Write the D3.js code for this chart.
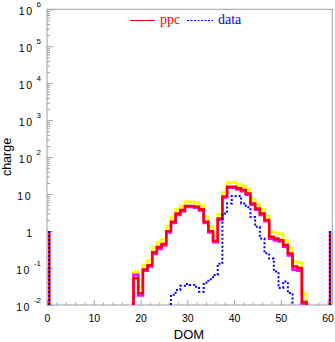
<!DOCTYPE html>
<html><head><meta charset="utf-8">
<script src="https://cdn.jsdelivr.net/npm/d3@7"></script>
<style>body{margin:0;background:#fff}svg{display:block}</style>
</head><body>
<svg id="c" width="335" height="342"></svg>
<script>
// ---- data ----
const firstDom = 19;
const ppc   = [0.053,0.021,0.092,0.12,0.27,0.37,0.45,1.0,1.8,3.0,3.7,4.8,4.8,4.6,3.9,1.8,1.0,0.55,2.2,8.7,15.9,15.9,14.4,12.9,10.5,5.6,4.1,3.0,2.0,0.7,0.63,0.57,0.42,0.25,0.11,0.10,0.012];
const upper = [0.08,0.03,0.12,0.16,0.36,0.5,0.6,1.35,2.4,3.9,4.8,6.2,6.2,5.9,5.0,2.4,1.35,0.75,2.9,11.2,20.5,20.5,18.6,16.6,13.5,7.3,5.3,3.9,2.6,0.95,0.9,0.85,0.56,0.34,0.15,0.14,0.02];
const lower = [0.066,0.018,0.085,0.11,0.24,0.33,0.41,0.92,1.65,2.75,3.4,4.5,4.5,4.3,3.6,1.65,0.92,0.5,2.0,8.1,14.8,14.8,13.4,12.0,9.7,5.2,3.8,2.75,1.85,0.62,0.56,0.52,0.38,0.22,0.09,0.085,0.011];
const dataFirstDom = 27;
const dataVals = [0.019,0.0255,0.033,0.037,0.035,0.031,0.023,0.04,0.05,0.065,0.13,3.0,5.6,8.9,8.9,5.6,4.4,2.4,1.3,0.63,0.25,0.18,0.08,0.029,0.043,0.021];
const spikeDoms = [0, 60];
const spikeVals = [1, 1];
const xTicks = [0,10,20,30,40,50,60];
const yDecades = [-2,-1,0,1,2,3,4,5,6];

// ---- scales ----
const svg = d3.select("#c");
const x = d3.scaleLinear().domain([0,61]).range([47,332.3]);
const y = d3.scaleLog().domain([1e-2,1e6]).range([305,9.3]);
const yb = y.range()[0];
const yv = v => v > 0 ? y(v) : yb;
const gray = "#a0a0a0";

// ---- frame ----
svg.append("rect").attr("x", x.range()[0]).attr("y", y.range()[1])
  .attr("width", x.range()[1]-x.range()[0]).attr("height", yb - y.range()[1])
  .attr("fill","none").attr("stroke",gray).attr("stroke-width",1);

// ---- axes ticks ----
const minorX = d3.range(0, 61, 2).filter(v => v % 10 !== 0);
const gx = svg.append("g").attr("transform",`translate(0,${yb})`);
gx.call(d3.axisBottom(x).tickValues(minorX).tickSize(-2.5).tickFormat(""));
gx.call(g => g.select(".domain").remove());
const gx2 = svg.append("g").attr("transform",`translate(0,${yb})`);
gx2.call(d3.axisBottom(x).tickValues(xTicks).tickSize(-5).tickFormat(d3.format("d")));
gx2.select(".domain").remove();
gx2.selectAll("text").attr("y",17).attr("dy",0)
  .attr("font-family","'Liberation Sans',Arial,sans-serif").attr("font-size",10.5).attr("fill","#000");
svg.selectAll(".tick line").attr("stroke",gray);

const minorY = [];
for (let d=-2; d<6; d++) for (let m=2; m<10; m++) minorY.push(m*Math.pow(10,d));
const gy = svg.append("g").attr("transform",`translate(${x.range()[0]},0)`);
gy.call(d3.axisLeft(y).tickValues(minorY).tickSize(-3).tickFormat(""));
gy.select(".domain").remove();
const gy2 = svg.append("g").attr("transform",`translate(${x.range()[0]},0)`);
gy2.call(d3.axisLeft(y).tickValues(yDecades.map(d=>Math.pow(10,d))).tickSize(-6).tickFormat(""));
gy2.select(".domain").remove();
svg.selectAll(".tick line").attr("stroke",gray);

// y labels
const lab = svg.append("g").attr("font-family","'Liberation Sans',Arial,sans-serif").attr("fill","#000");
yDecades.forEach(d => {
  const ty = y(Math.pow(10,d));
  if (d === 0 || d === 1) {
    lab.append("text").attr("x",32).attr("y",ty+5.5).attr("text-anchor","end")
      .attr("font-size",10.5).attr("letter-spacing",d===1?1.5:0).text(d===0?"1":"10");
  } else {
    const s = lab.append("text").attr("x",41).attr("y",ty-2.5).attr("text-anchor","end")
      .attr("font-size",8).text(String(d));
    const w = s.node().getComputedTextLength();
    lab.append("text").attr("x",41-w-3).attr("y",ty+5.5).attr("text-anchor","end")
      .attr("font-size",10.5).attr("letter-spacing",1.5).text("10");
  }
});

// axis titles
svg.append("text").attr("x",189).attr("y",339).attr("text-anchor","middle")
  .attr("font-family","'Liberation Sans',Arial,sans-serif").attr("font-size",13).text("DOM");
svg.append("text").attr("transform","translate(11,157) rotate(-90)").attr("text-anchor","middle")
  .attr("font-family","'Liberation Sans',Arial,sans-serif").attr("font-size",12.5).text("charge");

// ---- histograms ----
function stepPts(first, vals){
  const pts = [[first-0.5, 0]];
  vals.forEach((v,i) => pts.push([first+i-0.5, v]));
  pts.push([first+vals.length-0.5, 0]);
  return pts;
}
const line = d3.line().x(p => x(p[0])).y(p => yv(p[1])).curve(d3.curveStepAfter);
const plot = svg.append("g");
const series = [
  {vals: upper, first: firstDom, color:"#ffff00", w:2.6, dash:null},
  {vals: lower, first: firstDom, color:"#ff00ff", w:2.6, dash:null},
  {vals: ppc,   first: firstDom, color:"#ff0000", w:2.4, dash:null},
  {vals: dataVals, first: dataFirstDom, color:"#0000ff", w:2, dash:"2,2"}
];
series.forEach(s => {
  plot.append("path").attr("d", line(stepPts(s.first, s.vals)))
    .attr("fill","none").attr("stroke",s.color).attr("stroke-width",s.w)
    .attr("stroke-dasharray",s.dash);
});
// spikes at edge DOMs
[["#ff0000",2.4,null],["#0000ff",2,"2,2"]].forEach(([c,w,da]) => {
  plot.selectAll(null).data(spikeDoms).enter().append("line")
    .attr("x1",(d)=>x(d+0.5)).attr("x2",(d)=>x(d+0.5))
    .attr("y1",(d,i)=>y(spikeVals[i])).attr("y2",yb)
    .attr("stroke",c).attr("stroke-width",w).attr("stroke-dasharray",da);
});

// ---- legend ----
const leg = svg.append("g");
leg.append("line").attr("x1",130).attr("x2",155).attr("y1",20.5).attr("y2",20.5).attr("stroke","#ff0000").attr("stroke-width",1);
leg.append("text").attr("x",160).attr("y",24).attr("fill","#ff0000")
  .attr("font-family","'Liberation Serif','Times New Roman',serif").attr("font-size",14).text("ppc");
leg.append("line").attr("x1",187).attr("x2",213).attr("y1",20.5).attr("y2",20.5).attr("stroke","#0000ff").attr("stroke-width",1).attr("stroke-dasharray","2,1.5");
leg.append("text").attr("x",218).attr("y",24).attr("fill","#0000ff")
  .attr("font-family","'Liberation Serif','Times New Roman',serif").attr("font-size",14).text("data");
</script>
</body></html>
